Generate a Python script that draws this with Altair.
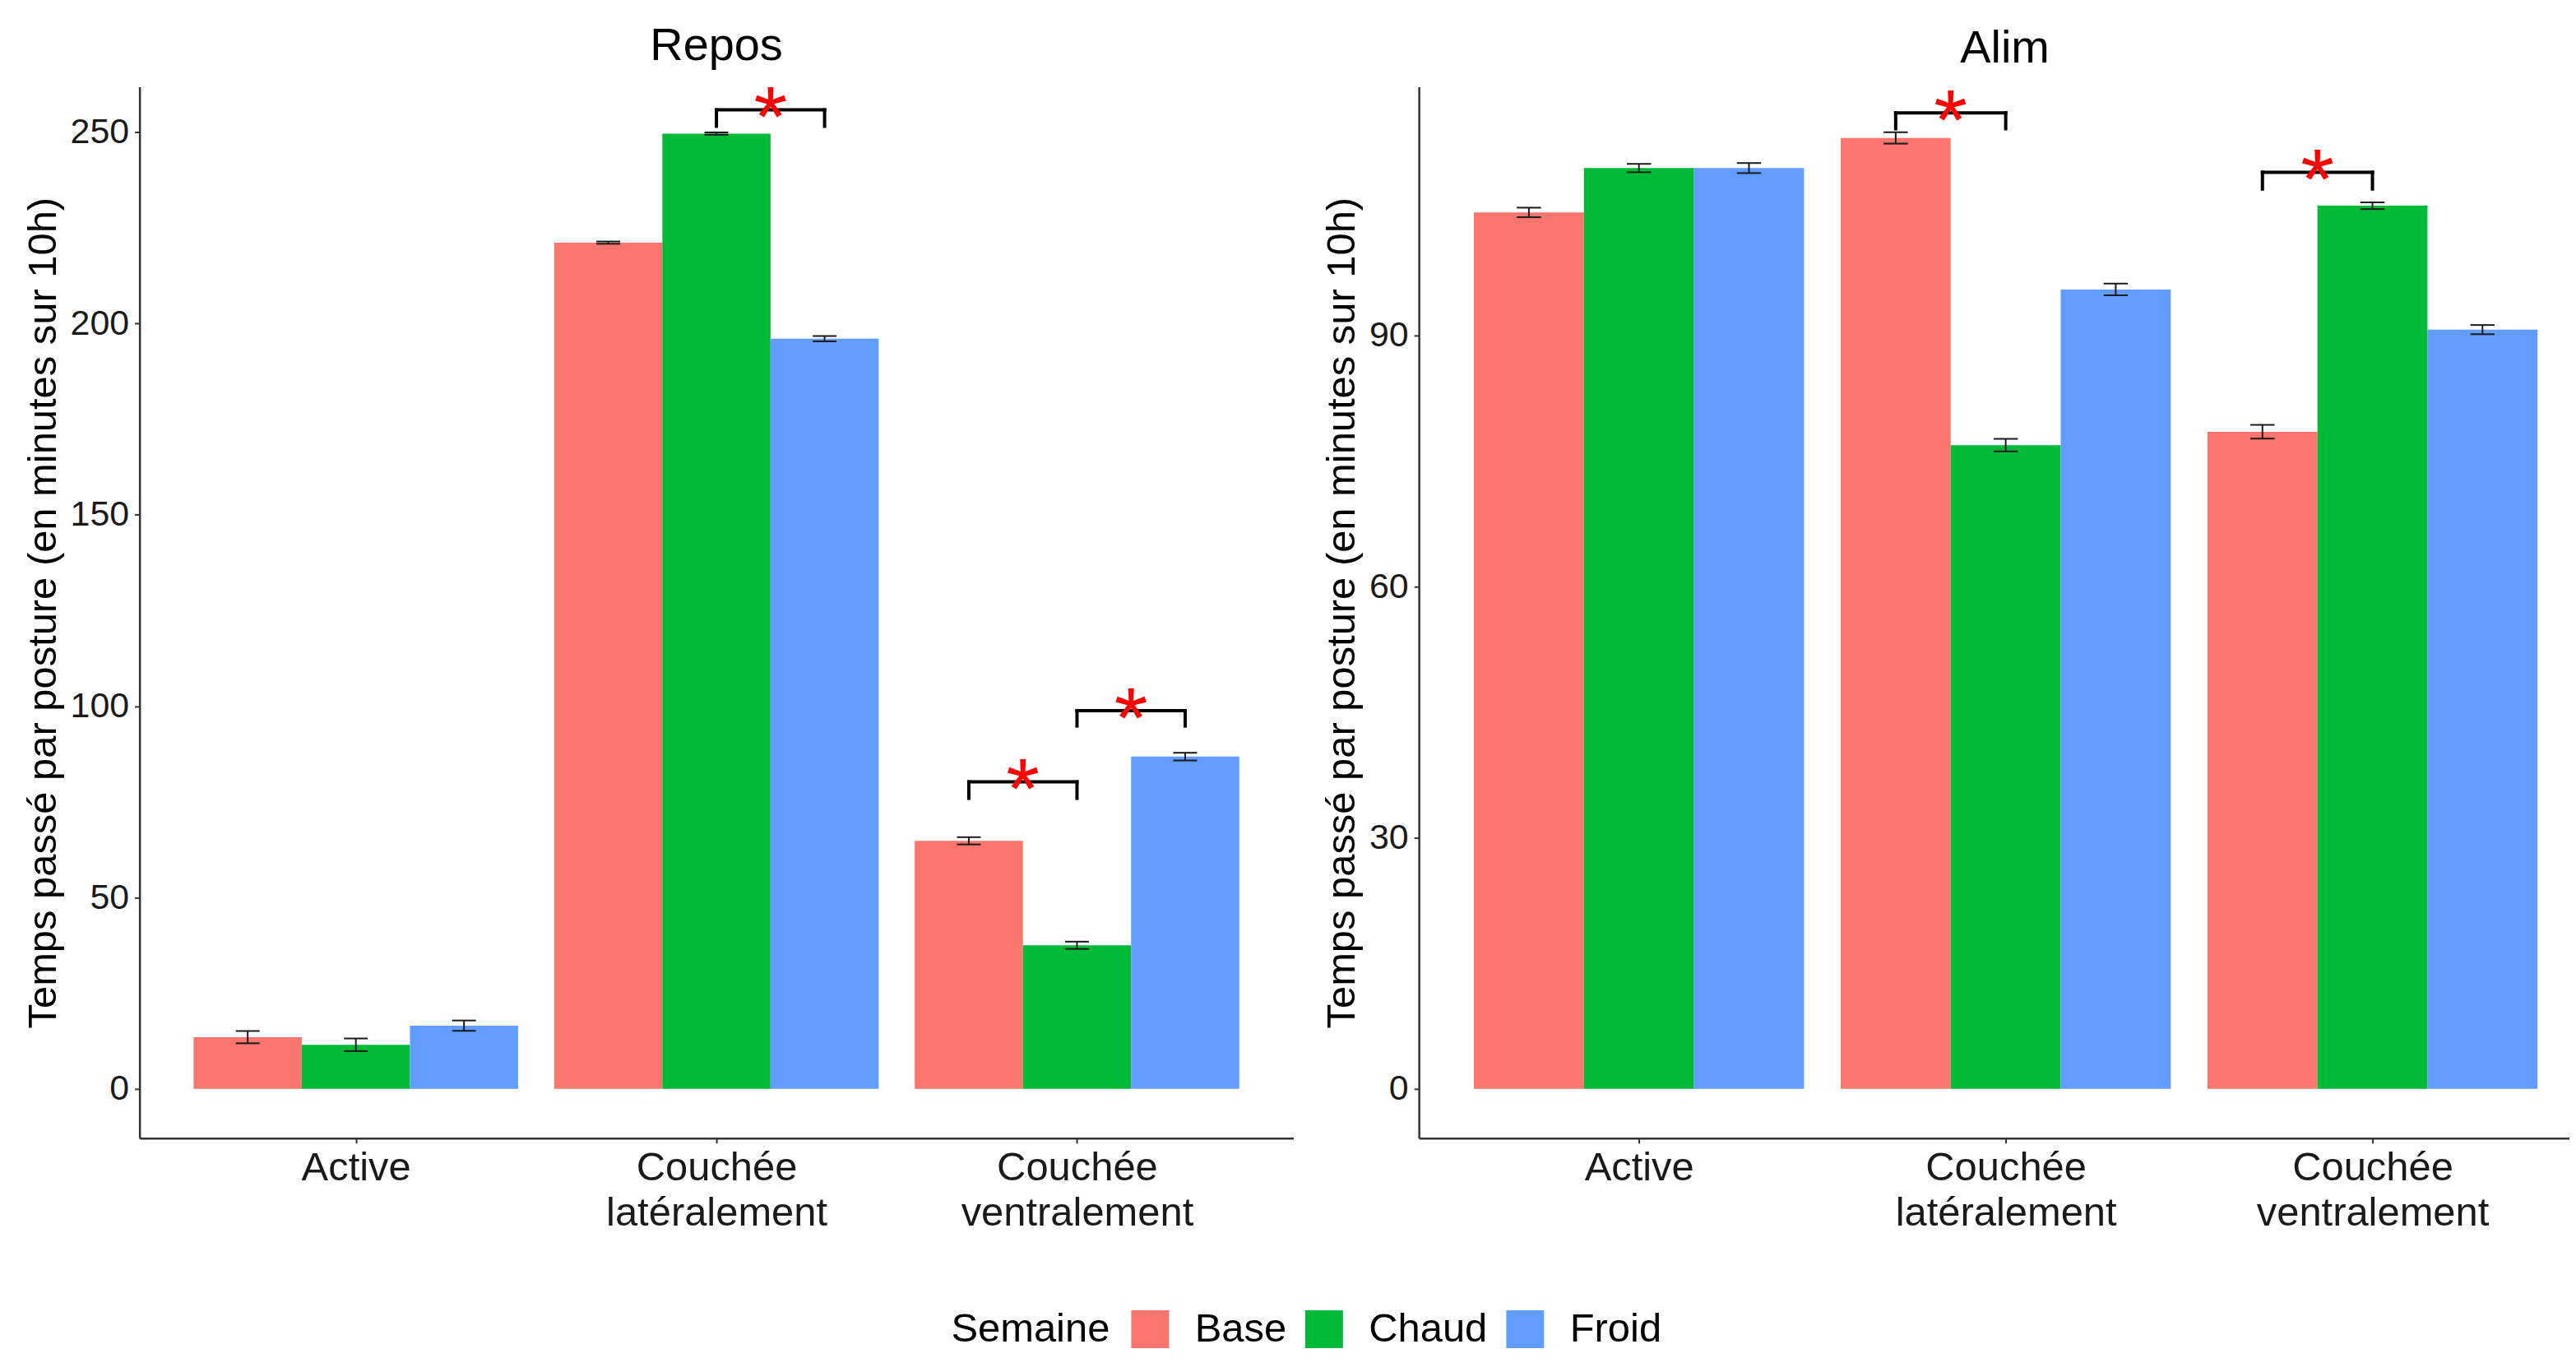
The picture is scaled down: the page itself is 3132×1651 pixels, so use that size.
import altair as alt
import pandas as pd

# ---------------- data ----------------
postures = ["Active", "Couchée latéralement", "Couchée ventralement"]
semaines = ["Base", "Chaud", "Froid"]
couleurs = ["#F8766D", "#00BA38", "#619CFF"]

# Repos : moyennes et erreurs standard (ordre des postures ci-dessus)
repos_base = [13.5, 221.1, 64.8]
repos_chaud = [11.5, 249.6, 37.5]
repos_froid = [16.5, 196.0, 86.8]
repos_base_es = [1.6, 0.3, 0.95]
repos_chaud_es = [1.65, 0.3, 0.95]
repos_froid_es = [1.35, 0.7, 1.0]

# Alim
alim_base = [104.7, 113.6, 78.5]
alim_chaud = [110.0, 76.9, 105.5]
alim_froid = [110.0, 95.5, 90.7]
alim_base_es = [0.57, 0.68, 0.82]
alim_chaud_es = [0.5, 0.75, 0.4]
alim_froid_es = [0.6, 0.7, 0.55]

# comparaisons significatives : (posture, semaine 1, semaine 2, hauteur barre, bas des pattes)
repos_sig = [("Couchée latéralement", "Chaud", "Froid", 255.8, 251.5),
             ("Couchée ventralement", "Base", "Chaud", 80.2, 75.9),
             ("Couchée ventralement", "Chaud", "Froid", 98.8, 94.8)]
alim_sig = [("Couchée latéralement", "Base", "Chaud", 116.6, 114.7),
            ("Couchée ventralement", "Base", "Chaud", 109.5, 107.5)]

Y_TITLE = "Temps passé par posture (en minutes sur 10h)"
FONT = "Liberation Sans"

# ---------------- helpers ----------------
def bar_table(series, errs):
    rows = []
    for pi, p in enumerate(postures):
        for si, s in enumerate(semaines):
            rows.append({"Posture": p, "Semaine": s, "pi": pi + 1, "si": si,
                         "Moyenne": series[si][pi], "ES": errs[si][pi]})
    return pd.DataFrame(rows)


def sig_table(sig):
    rows = []
    for p, s1, s2, top, leg in sig:
        rows.append({"pi": postures.index(p) + 1,
                     "s1": semaines.index(s1), "s2": semaines.index(s2),
                     "top": top, "leg": leg, "lab": "*"})
    return pd.DataFrame(rows)


label_expr = " : ".join(
    f"datum.value == {i + 1} ? split('{p}', ' ')" for i, p in enumerate(postures)
) + " : ''"


def panel(title, series, errs, sig, ydom, yticks, width, xmax, title_dx):
    df = bar_table(series, errs)
    sdf = sig_table(sig)
    xs = alt.Scale(domain=[0.4, xmax], nice=False, zero=False)
    ys = alt.Scale(domain=ydom, nice=False, zero=False)
    xaxis = alt.Axis(values=[1, 2, 3], labelExpr=label_expr, title=None, grid=False,
                     labelFontSize=49, labelLineHeight=55, labelPadding=6,
                     labelFont=FONT, labelColor="#1a1a1a", tickSize=6,
                     labelFlush=False, labelOverlap=False, labelLimit=0)
    yaxis = alt.Axis(values=yticks, title=Y_TITLE, grid=False, labelFontSize=43,
                     labelFont=FONT, labelColor="#1a1a1a", labelPadding=7,
                     titleFont=FONT, titleFontSize=49, titleFontWeight="normal",
                     titleColor="#000000", titlePadding=8, tickSize=6)

    base = alt.Chart(df).transform_calculate(
        xc="datum.pi + (datum.si - 1) * 0.3",
    ).transform_calculate(
        x0="datum.xc - 0.15", x1="datum.xc + 0.15",
        lo="datum.Moyenne - datum.ES", hi="datum.Moyenne + datum.ES",
        w0="datum.xc - 0.033", w1="datum.xc + 0.033",
    )

    bars = base.mark_rect().encode(
        x=alt.X("x0:Q", scale=xs, axis=xaxis),
        x2="x1:Q",
        y=alt.Y("Moyenne:Q", scale=ys, axis=yaxis),
        y2=alt.datum(0),
        color=alt.Color("Semaine:N", scale=alt.Scale(domain=semaines, range=couleurs),
                        legend=alt.Legend(title="Semaine", orient="none",
                                          legendX=989, legendY=1489,
                                          direction="horizontal", titleOrient="left",
                                          titleFontSize=49, titleFont=FONT,
                                          titleFontWeight="normal", titleColor="#000",
                                          titleLimit=0,
                                          labelFontSize=49, labelFont=FONT,
                                          labelColor="#000", symbolType="square",
                                          symbolSize=2116, symbolStrokeWidth=0,
                                          symbolOpacity=1, labelOffset=30,
                                          columnPadding=21, titlePadding=24,
                                          titleBaseline="middle", labelLimit=0)),
    )
    err = base.mark_rule(color="#1a1a1a", strokeWidth=2).encode(
        x=alt.X("xc:Q", scale=xs, axis=xaxis),
        y=alt.Y("lo:Q", scale=ys, axis=yaxis), y2="hi:Q")
    wlo = base.mark_rule(color="#1a1a1a", strokeWidth=2).encode(
        x=alt.X("w0:Q", scale=xs, axis=xaxis), x2="w1:Q",
        y=alt.Y("lo:Q", scale=ys, axis=yaxis))
    whi = base.mark_rule(color="#1a1a1a", strokeWidth=2).encode(
        x=alt.X("w0:Q", scale=xs, axis=xaxis), x2="w1:Q",
        y=alt.Y("hi:Q", scale=ys, axis=yaxis))

    sbase = alt.Chart(sdf).transform_calculate(
        xa="datum.pi + (datum.s1 - 1) * 0.3",
        xb="datum.pi + (datum.s2 - 1) * 0.3",
    ).transform_calculate(xm="(datum.xa + datum.xb) / 2")
    bh = sbase.mark_rule(color="black", strokeWidth=4, strokeCap="square").encode(
        x=alt.X("xa:Q", scale=xs, axis=xaxis), x2="xb:Q",
        y=alt.Y("top:Q", scale=ys, axis=yaxis))
    bl = sbase.mark_rule(color="black", strokeWidth=4, strokeCap="square").encode(
        x=alt.X("xa:Q", scale=xs, axis=xaxis),
        y=alt.Y("leg:Q", scale=ys, axis=yaxis), y2="top:Q")
    br = sbase.mark_rule(color="black", strokeWidth=4, strokeCap="square").encode(
        x=alt.X("xb:Q", scale=xs, axis=xaxis),
        y=alt.Y("leg:Q", scale=ys, axis=yaxis), y2="top:Q")
    star = sbase.mark_text(color="#FF0000", fontSize=105, font=FONT,
                           baseline="alphabetic", dy=45).encode(
        x=alt.X("xm:Q", scale=xs, axis=xaxis),
        y=alt.Y("top:Q", scale=ys, axis=yaxis),
        text="lab:N")

    return alt.layer(bars, err, wlo, whi, bh, bl, br, star).properties(
        width=width, height=1281,
        title=alt.Title(title, fontSize=56, font=FONT, fontWeight="normal",
                        color="#000", baseline="alphabetic", offset=-34,
                        anchor="middle", dx=title_dx, frame="group"),
    )


left = panel("Repos", [repos_base, repos_chaud, repos_froid],
             [repos_base_es, repos_chaud_es, repos_froid_es], repos_sig,
             [-12.9, 261.8], [0, 50, 100, 150, 200, 250], 1406, 3.6, 0)
right = panel("Alim", [alim_base, alim_chaud, alim_froid],
              [alim_base_es, alim_chaud_es, alim_froid_es], alim_sig,
              [-5.9, 119.7], [0, 30, 60, 90], 1402, 3.537, 13)

chart = alt.hconcat(left, right, spacing=35).properties(
    padding={"left": 20, "top": 17, "right": 0, "bottom": 0}
).configure_view(stroke=None).configure_axis(
    domainColor="#333333", domainWidth=2.5, tickColor="#333333", tickWidth=2
)

chart.save("out.html", embed_options={"renderer": "svg", "actions": False})
